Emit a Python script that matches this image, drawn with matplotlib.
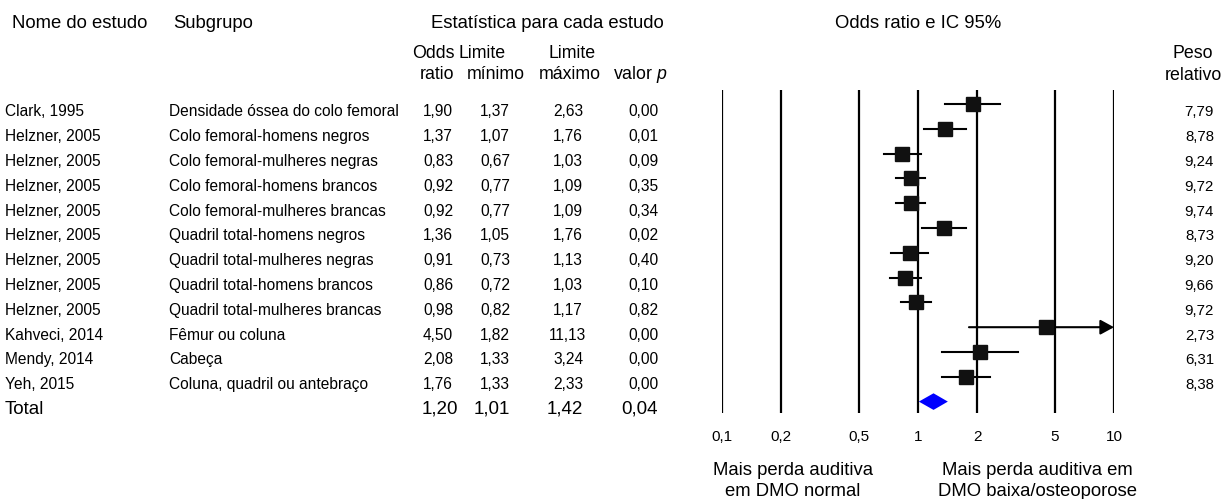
import numpy as np
import matplotlib
matplotlib.use('Agg')
import matplotlib.pyplot as plt
from matplotlib.transforms import blended_transform_factory

plt.rcParams['font.family'] = ['Liberation Sans', 'DejaVu Sans']
plt.rcParams['mathtext.fontset'] = 'custom'
plt.rcParams['mathtext.rm'] = 'Liberation Sans'
plt.rcParams['mathtext.it'] = 'Liberation Sans:italic'

# data
studies = ['Clark, 1995', 'Helzner, 2005', 'Helzner, 2005', 'Helzner, 2005',
           'Helzner, 2005', 'Helzner, 2005', 'Helzner, 2005', 'Helzner, 2005',
           'Helzner, 2005', 'Kahveci, 2014', 'Mendy, 2014', 'Yeh, 2015']
subgroups = ['Densidade óssea do colo femoral', 'Colo femoral-homens negros',
             'Colo femoral-mulheres negras', 'Colo femoral-homens brancos',
             'Colo femoral-mulheres brancas', 'Quadril total-homens negros',
             'Quadril total-mulheres negras', 'Quadril total-homens brancos',
             'Quadril total-mulheres brancas', 'Fêmur ou coluna', 'Cabeça',
             'Coluna, quadril ou antebraço']
odds = [1.90, 1.37, 0.83, 0.92, 0.92, 1.36, 0.91, 0.86, 0.98, 4.50, 2.08, 1.76]
lower = [1.37, 1.07, 0.67, 0.77, 0.77, 1.05, 0.73, 0.72, 0.82, 1.82, 1.33, 1.33]
upper = [2.63, 1.76, 1.03, 1.09, 1.09, 1.76, 1.13, 1.03, 1.17, 11.13, 3.24, 2.33]
pvals = [0.00, 0.01, 0.09, 0.35, 0.34, 0.02, 0.40, 0.10, 0.82, 0.00, 0.00, 0.00]
weights = [7.79, 8.78, 9.24, 9.72, 9.74, 8.73, 9.20, 9.66, 9.72, 2.73, 6.31, 8.38]
total_or, total_lo, total_hi, total_p = 1.20, 1.01, 1.42, 0.04
ticks = [0.1, 0.2, 0.5, 1, 2, 5, 10]
tick_labels = ['0,1', '0,2', '0,5', '1', '2', '5', '10']

W, H = 1223, 499
ROW0, STEP = 104, 24.8   # pixel of first row, row spacing


def row(px):
    return (px - ROW0) / STEP


def fmt(v):
    return f'{v:.2f}'.replace('.', ',')


fig = plt.figure(figsize=(W / 100, H / 100), dpi=100)
top_px, bot_px = 90, 413
left_px, right_px = 722, 1114
ax = fig.add_axes([left_px / W, 1 - bot_px / H, (right_px - left_px) / W,
                   (bot_px - top_px) / H])
ax.set_xscale('log')
ax.set_xlim(0.1, 10)
ax.set_ylim(row(bot_px), row(top_px))
for s in ax.spines.values():
    s.set_visible(False)
ax.set_yticks([])
ax.set_xticks(ticks)
ax.set_xticklabels(tick_labels, fontsize=11)
ax.xaxis.set_minor_locator(matplotlib.ticker.NullLocator())
ax.tick_params(axis='x', length=0, pad=12.5)

for t in ticks:
    ax.axvline(t, color='black', lw=1.6, zorder=1, snap=False)

n = len(studies)
for i in range(n):
    if upper[i] > 10:
        ax.annotate('', xy=(10, i), xytext=(lower[i], i),
                    arrowprops=dict(arrowstyle='-|>,head_length=0.55,head_width=0.3',
                                    lw=1.5, color='black', mutation_scale=15,
                                    shrinkA=0, shrinkB=0), zorder=2)
    else:
        ax.plot([lower[i], upper[i]], [i, i], color='black', lw=1.5, zorder=2)
    ax.plot(odds[i], i, 's', color='#111111', markersize=9.8, zorder=3)

# summary diamond
dh = 8.3 / STEP
ax.fill([total_lo, total_or, total_hi, total_or], [n, n - dh, n, n + dh],
        color='#0000ff', lw=0, zorder=3)

tr = blended_transform_factory(fig.transFigure, ax.transData)


def put(xpx, y, s, size=11.2, ha='left', va='baseline'):
    ax.text(xpx / W, y, s, transform=tr, fontsize=size, ha=ha, va=va,
            clip_on=False, color='black')


# headers
hs = 13.3
ss = 12.8
put(12, row(28), 'Nome do estudo', hs)
put(173, row(28), 'Subgrupo', hs)
put(547, row(28), 'Estatística para cada estudo', hs, ha='center')
put(918, row(28), 'Odds ratio e IC 95%', hs, ha='center')
put(433, row(58), 'Odds', ss, ha='center')
put(482, row(58), 'Limite', ss, ha='center')
put(572, row(58), 'Limite', ss, ha='center')
put(437, row(79), 'ratio', ss, ha='center')
put(496, row(79), 'mínimo', ss, ha='center')
put(570, row(79), 'máximo', ss, ha='center')
put(640, row(79), r'valor $\it{p}$', ss, ha='center')
put(1193, row(58), 'Peso', ss, ha='center')
put(1193, row(80), 'relativo', ss, ha='center')

# rows
off = 0.5
for i in range(n):
    y = i + off
    put(5, y, studies[i])
    put(169, y, subgroups[i])
    put(438, y, fmt(odds[i]), ha='center')
    put(495, y, fmt(lower[i]), ha='center')
    put(568, y, fmt(upper[i]), ha='center')
    put(643, y, fmt(pvals[i]), ha='center')
    put(1214, y, fmt(weights[i]), 10.8, ha='right')

ts = 13.5
put(5, n + 0.5, 'Total', ts)
put(440, n + 0.5, fmt(total_or), ts, ha='center')
put(492, n + 0.5, fmt(total_lo), ts, ha='center')
put(565, n + 0.5, fmt(total_hi), ts, ha='center')
put(640, n + 0.5, fmt(total_p), ts, ha='center')

bs = 13.3
put(793, row(475), 'Mais perda auditiva', bs, ha='center')
put(793, row(496), 'em DMO normal', bs, ha='center')
put(1037, row(475), 'Mais perda auditiva em', bs, ha='center')
put(1037, row(496), 'DMO baixa/osteoporose', bs, ha='center')

fig.savefig('out.png', dpi=100)
